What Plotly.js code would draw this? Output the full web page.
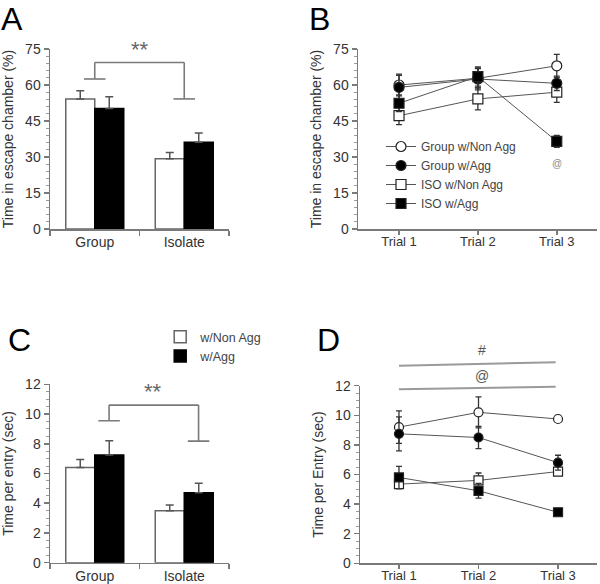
<!DOCTYPE html>
<html>
<head>
<meta charset="utf-8">
<script src="https://cdn.plot.ly/plotly-3.0.1.min.js"></script>
<style>html,body{margin:0;padding:0;background:#fff;}#chart{width:600px;height:584px;}</style>
</head>
<body>
<div id="chart"></div>
<script>
// ---------- data ----------
const groups = ['Group', 'Isolate'];
const seriesBar = ['w/Non Agg', 'w/Agg'];

// Panel A: time in escape chamber (%)
const aNonAgg = [54.2, 29.3];
const aNonAggErr = [3.4, 2.6];
const aAgg = [50.2, 36.1];
const aAggErr = [4.9, 3.9];

// Panel C: time per entry (sec)
const cNonAgg = [6.4, 3.5];
const cNonAggErr = [0.55, 0.38];
const cAgg = [7.25, 4.7];
const cAggErr = [0.95, 0.65];

const trials = ['Trial 1', 'Trial 2', 'Trial 3'];
const lineNames = ['Group w/Non Agg', 'Group w/Agg', 'ISO w/Non Agg', 'ISO w/Agg'];

// Panel B: time in escape chamber (%)
const bGroupNon = [60.0, 62.8, 68.0];
const bGroupNonErr = [4.5, 4.0, 4.8];
const bGroupAgg = [59.0, 62.5, 60.7];
const bGroupAggErr = [5.0, 4.5, 3.0];
const bIsoNon = [47.2, 54.2, 57.0];
const bIsoNonErr = [3.7, 4.6, 4.2];
const bIsoAgg = [52.4, 63.5, 36.5];
const bIsoAggErr = [3.5, 4.0, 2.5];

// Panel D: time per entry (sec)
const dGroupNon = [9.2, 10.2, 9.75];
const dGroupNonErr = [1.1, 1.05, 0.2];
const dGroupAgg = [8.75, 8.5, 6.8];
const dGroupAggErr = [1.15, 0.75, 0.5];
const dIsoNon = [5.35, 5.6, 6.2];
const dIsoNonErr = [0.3, 0.5, 0.25];
const dIsoAgg = [5.8, 4.9, 3.45];
const dIsoAggErr = [0.75, 0.5, 0.15];

// significance marks (data units)
const sigA = {left: 0, right: 1, top: 69.4, leftEnd: 62.5, rightEnd: 54.2, label: '**', labelY: 75};
const sigC = {left: 0.16, right: 1.16, top: 10.6, leftEnd: 9.55, rightEnd: 8.18, label: '**', labelY: 11.5};
const sigB = {label: '@', x: 2, y: 27.4};
const sigD = [
  {label: '#', y0: 13.34, y1: 13.59, labelY: 14.4},
  {label: '@', y0: 11.76, y1: 11.93, labelY: 12.65}
];

// ---------- style ----------
const FONT = 'Liberation Sans, Arial, sans-serif';
const AX = '#7a7a7a';
const TXT = '#333';
const rangeAB = [0, 75];
const rangeCD = [0, 12];

function yAxis(range, dtick, minorDtick, domain, title, anchor) {
  return {
    domain: domain, range: range, anchor: anchor, dtick: dtick, tick0: 0,
    showline: true, linecolor: AX, linewidth: 1.5, mirror: false,
    ticks: 'outside', ticklen: 5, tickwidth: 1.5, tickcolor: AX,
    minor: {ticks: 'outside', ticklen: 3, tickwidth: 1, tickcolor: '#9a9a9a', dtick: minorDtick, tick0: 0, showgrid: false},
    showgrid: false, zeroline: false,
    tickfont: {family: FONT, size: 14, color: TXT},
    title: {text: title, font: {family: FONT, size: 14, color: TXT}, standoff: 8}
  };
}
function xBarAxis(domain, anchor) {
  return {
    domain: domain, anchor: anchor, type: 'category', range: [-0.5, 1.5],
    categoryorder: 'array', categoryarray: groups,
    showline: true, linecolor: AX, linewidth: 1.5,
    ticks: 'outside', tickson: 'boundaries', ticklen: 5, tickwidth: 1.5, tickcolor: AX,
    showgrid: false, zeroline: false,
    tickfont: {family: FONT, size: 14, color: TXT}
  };
}
function xLineAxis(domain, anchor, range) {
  return {
    domain: domain, anchor: anchor, type: 'category', range: range,
    categoryorder: 'array', categoryarray: trials,
    showline: true, linecolor: AX, linewidth: 1.5,
    ticks: 'outside', ticklen: 4, tickwidth: 1.5, tickcolor: AX,
    ticklabelstandoff: -4,
    showgrid: false, zeroline: false,
    tickfont: {family: FONT, size: 13, color: TXT}
  };
}

function barTrace(name, y, err, fill, edge, xa, ya, showlegend) {
  return {
    type: 'bar', x: groups, y: y, name: name, xaxis: xa, yaxis: ya,
    legend: 'legend2', legendgroup: name, showlegend: showlegend,
    marker: {color: fill, line: {color: edge, width: 1.5}},
    error_y: {type: 'data', array: err, arrayminus: err.map(() => 0), symmetric: false,
              color: '#555', thickness: 1.5, width: 4}
  };
}

const markerSpecs = [
  {symbol: 'circle', color: '#fff'},
  {symbol: 'circle', color: '#000'},
  {symbol: 'square', color: '#fff'},
  {symbol: 'square', color: '#000'}
];
function lineTrace(i, y, err, xa, ya, showlegend, size) {
  return {
    type: 'scatter', mode: 'lines+markers', x: trials, y: y, name: lineNames[i],
    xaxis: xa, yaxis: ya, showlegend: showlegend, legend: 'legend',
    line: {color: '#555', width: 1},
    marker: {symbol: markerSpecs[i].symbol, size: size, color: markerSpecs[i].color,
             line: {color: '#222', width: 1.2}},
    error_y: {type: 'data', array: err, color: '#333', thickness: 1.3, width: 3},
    cliponaxis: false
  };
}

const data = [
  barTrace(seriesBar[0], aNonAgg, aNonAggErr, '#fff', '#666', 'x', 'y', false),
  barTrace(seriesBar[1], aAgg, aAggErr, '#000', '#000', 'x', 'y', false),
  barTrace(seriesBar[0], cNonAgg, cNonAggErr, '#fff', '#666', 'x3', 'y3', true),
  barTrace(seriesBar[1], cAgg, cAggErr, '#000', '#000', 'x3', 'y3', true),
  lineTrace(2, bIsoNon, bIsoNonErr, 'x2', 'y2', false, 10),
  lineTrace(0, bGroupNon, bGroupNonErr, 'x2', 'y2', false, 10),
  lineTrace(1, bGroupAgg, bGroupAggErr, 'x2', 'y2', false, 10),
  lineTrace(3, bIsoAgg, bIsoAggErr, 'x2', 'y2', false, 10),
  // legend entries in natural order (same marks, legend only)
  Object.assign(lineTrace(0, [null, null, null], [0, 0, 0], 'x2', 'y2', true, 10), {hoverinfo: 'skip'}),
  Object.assign(lineTrace(1, [null, null, null], [0, 0, 0], 'x2', 'y2', true, 10), {hoverinfo: 'skip'}),
  Object.assign(lineTrace(2, [null, null, null], [0, 0, 0], 'x2', 'y2', true, 10), {hoverinfo: 'skip'}),
  Object.assign(lineTrace(3, [null, null, null], [0, 0, 0], 'x2', 'y2', true, 10), {hoverinfo: 'skip'}),
  lineTrace(2, dIsoNon, dIsoNonErr, 'x4', 'y4', false, 9),
  lineTrace(0, dGroupNon, dGroupNonErr, 'x4', 'y4', false, 9),
  lineTrace(1, dGroupAgg, dGroupAggErr, 'x4', 'y4', false, 9),
  lineTrace(3, dIsoAgg, dIsoAggErr, 'x4', 'y4', false, 9)
];

// ---------- shapes & annotations ----------
const BR = {color: '#7a7a7a', width: 1.6};
function bracket(s, xa, ya, cap) {
  const L = (x0, y0, x1, y1) => ({type: 'line', xref: xa, yref: ya, x0: x0, y0: y0, x1: x1, y1: y1, line: BR});
  return [
    L(s.left, s.top, s.right, s.top),
    L(s.left, s.top, s.left, s.leftEnd),
    L(s.left - cap, s.leftEnd, s.left + cap, s.leftEnd),
    L(s.right, s.top, s.right, s.rightEnd),
    L(s.right - cap, s.rightEnd, s.right + cap, s.rightEnd)
  ];
}
const dFrac = v => (v - rangeCD[0]) / (rangeCD[1] - rangeCD[0]);
const shapes = [].concat(
  bracket(sigA, 'x', 'y', 0.12),
  bracket(sigC, 'x3', 'y3', 0.12),
  sigD.map(s => ({type: 'line', xref: 'x4', yref: 'y4 domain', x0: 0, x1: 1.97,
                  y0: dFrac(s.y0), y1: dFrac(s.y1), line: {color: '#9a9a9a', width: 2}}))
);

const letter = (t, x, y, anchor) => ({text: t, xref: 'paper', yref: 'paper', x: x, y: y,
  xanchor: 'left', yanchor: anchor, borderpad: 0, showarrow: false,
  font: {family: FONT, size: 32, color: '#000'}});
const annotations = [
  letter('A', 0.0, 1, 'top'),
  letter('B', 0.514, 1, 'top'),
  letter('C', 0.012, 1 - 340 / 584, 'middle'),
  letter('D', 0.526, 1 - 340 / 584, 'middle'),
  {text: sigA.label, xref: 'x', yref: 'y', x: 0.5, y: sigA.labelY, showarrow: false, yanchor: 'middle',
   font: {family: FONT, size: 22, color: '#666'}},
  {text: sigC.label, xref: 'x3', yref: 'y3', x: 0.65, y: sigC.labelY, showarrow: false, yanchor: 'middle',
   font: {family: FONT, size: 22, color: '#666'}},
  {text: sigB.label, xref: 'x2', yref: 'y2', x: sigB.x, y: sigB.y, showarrow: false,
   font: {family: FONT, size: 10, color: '#8a8a8a'}}
].concat(sigD.map(s => ({text: s.label, xref: 'x4', yref: 'y4 domain', x: 1.04, y: dFrac(s.labelY),
   showarrow: false, yanchor: 'middle', font: {family: FONT, size: 14, color: '#555'}})));

const layout = {
  width: 600, height: 584, margin: {l: 0, r: 0, t: 0, b: 0},
  paper_bgcolor: '#fff', plot_bgcolor: '#fff',
  barmode: 'group', bargap: 0.352, bargroupgap: 0,
  font: {family: FONT, color: TXT},
  xaxis: xBarAxis([50 / 600, 229 / 600], 'y'),
  yaxis: yAxis(rangeAB, 15, 3, [1 - 229 / 584, 1 - 49 / 584], 'Time in escape chamber (%)', 'x'),
  xaxis2: xLineAxis([358 / 600, 597 / 600], 'y2', [-0.52, 2.51]),
  yaxis2: yAxis(rangeAB, 15, 3, [1 - 229 / 584, 1 - 49 / 584], 'Time in escape chamber (%)', 'x2'),
  xaxis3: xBarAxis([50 / 600, 229 / 600], 'y3'),
  yaxis3: yAxis(rangeCD, 2, 0.5, [1 - 562.7 / 584, 1 - 384.3 / 584], 'Time per entry (sec)', 'x3'),
  xaxis4: xLineAxis([360 / 600, 597 / 600], 'y4', [-0.49, 2.49]),
  yaxis4: yAxis(rangeCD, 2, 0.5, [1 - 563.3 / 584, 1 - 385.7 / 584], 'Time per Entry (sec)', 'x4'),
  legend: {x: 0.635, y: 1 - 132 / 584, xanchor: 'left', yanchor: 'top', bgcolor: 'rgba(0,0,0,0)',
           font: {family: FONT, size: 12, color: '#444'}, tracegroupgap: 0, itemsizing: 'trace'},
  legend2: {x: 0.267, y: 1 - 322 / 584, xanchor: 'left', yanchor: 'top', bgcolor: 'rgba(0,0,0,0)',
            font: {family: FONT, size: 12.5, color: '#444'}, tracegroupgap: 0},
  shapes: shapes,
  annotations: annotations
};

Plotly.newPlot('chart', data, layout, {displayModeBar: false, staticPlot: true});
</script>
</body>
</html>
